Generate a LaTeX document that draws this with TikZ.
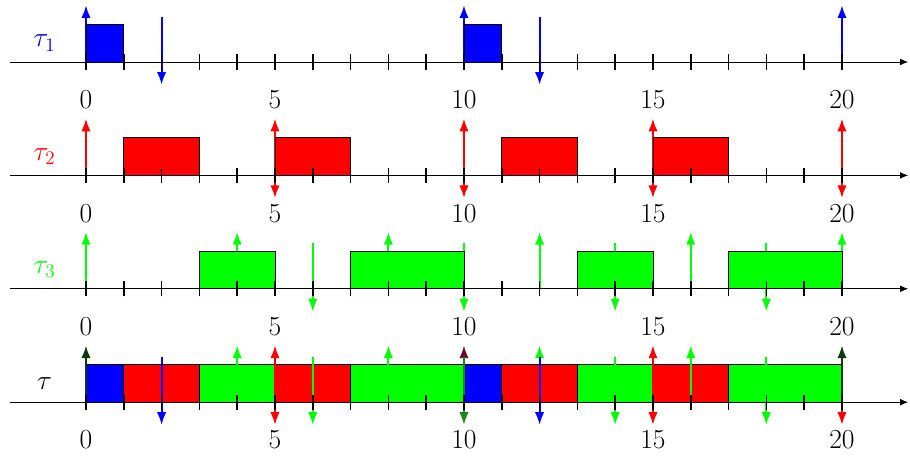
\documentclass[tikz,border=0pt]{standalone}
\usetikzlibrary{arrows.meta}
\definecolor{mixA}{RGB}{12,58,14}
\definecolor{mixB}{RGB}{105,10,45}
\definecolor{mixC}{RGB}{30,135,25}
\begin{document}
\begin{tikzpicture}[
  axisline/.style={line width=0.6pt, -{Latex[length=6pt,width=5pt]}},
  tickmark/.style={line width=1.2pt},
  relarrow/.style={line width=1.4pt, -{Latex[length=9.5pt,width=7pt]}},
  jobbox/.style={draw=black, line width=0.6pt},
  numlab/.style={font=\huge},
  tasklab/.style={font=\huge},
]
\useasboundingbox (-2.275,-1.45) rectangle (21.8,10.64);

% ---------- tau_1 (y = 9) ----------
\foreach \t in {0,10,20} \draw[relarrow, blue] (\t,9) -- (\t,10.5);
\foreach \t in {2,12} \draw[relarrow, blue] (\t,10.2) -- (\t,8.4);
\foreach \a/\b in {0/1,10/11} \filldraw[jobbox, fill=blue] (\a,9) rectangle (\b,10);

% ---------- tau_2 (y = 6) ----------
\foreach \t in {0,5,10,15,20} \draw[relarrow, red] (\t,6) -- (\t,7.5);
\foreach \t in {5,10,15,20} \draw[relarrow, red] (\t,7.2) -- (\t,5.4);
\foreach \a/\b in {1/3,5/7,11/13,15/17} \filldraw[jobbox, fill=red] (\a,6) rectangle (\b,7);

% ---------- tau_3 (y = 3) ----------
\foreach \t in {0,4,8,12,16,20} \draw[relarrow, green] (\t,3) -- (\t,4.5);
\foreach \t in {6,10,14,18} \draw[relarrow, green] (\t,4.2) -- (\t,2.4);
\foreach \a/\b in {3/5,7/10,13/15,17/20} \filldraw[jobbox, fill=green] (\a,3) rectangle (\b,4);

% ---------- tau (y = 0) ----------
\foreach \a/\b in {0/1,10/11} \filldraw[jobbox, fill=blue] (\a,0) rectangle (\b,1);
\foreach \a/\b in {1/3,5/7,11/13,15/17} \filldraw[jobbox, fill=red] (\a,0) rectangle (\b,1);
\foreach \a/\b in {3/5,7/10,13/15,17/20} \filldraw[jobbox, fill=green] (\a,0) rectangle (\b,1);

% ---------- arrows on the combined row ----------
\foreach \t in {4,8,12,16} \draw[relarrow, green] (\t,0) -- (\t,1.5);
\foreach \t in {5,15} \draw[relarrow, red] (\t,0) -- (\t,1.5);
\foreach \t in {6,14,18} \draw[relarrow, green] (\t,1.2) -- (\t,-0.6);
\foreach \t in {5,15,20} \draw[relarrow, red] (\t,1.2) -- (\t,-0.6);
\foreach \t in {2,12} \draw[relarrow, blue] (\t,1.2) -- (\t,-0.6);
\foreach \t in {0,20} \draw[relarrow, mixA] (\t,0) -- (\t,1.5);
\draw[relarrow, mixB] (10,0) -- (10,1.5);
\draw[relarrow, mixC] (10,1.2) -- (10,-0.6);

% ---------- axes, ticks, numbers ----------
\foreach \r/\y in {a/9,b/6,c/3,d/0}{
  \coordinate (s\r) at (-2,\y);
  \coordinate (e\r) at (21.75,\y);
  \draw[axisline] (s\r) -- (e\r);
  \foreach \t in {0,...,20} \draw[tickmark] (\t,\y-0.2) -- (\t,\y+0.2);
  \foreach \t in {0,5,10,15,20} \node[numlab] (n\r\t) at (\t,\y-1) {$\t$};
}

% ---------- task labels ----------
\node[tasklab, text=blue] (l1) at (-1.1,9.5) {$\tau_1$};
\node[tasklab, text=red] (l2) at (-1.1,6.5) {$\tau_2$};
\node[tasklab, text=green] (l3) at (-1.1,3.5) {$\tau_3$};
\node[tasklab] (l0) at (-1.1,0.5) {$\tau$};
\end{tikzpicture}
\end{document}
